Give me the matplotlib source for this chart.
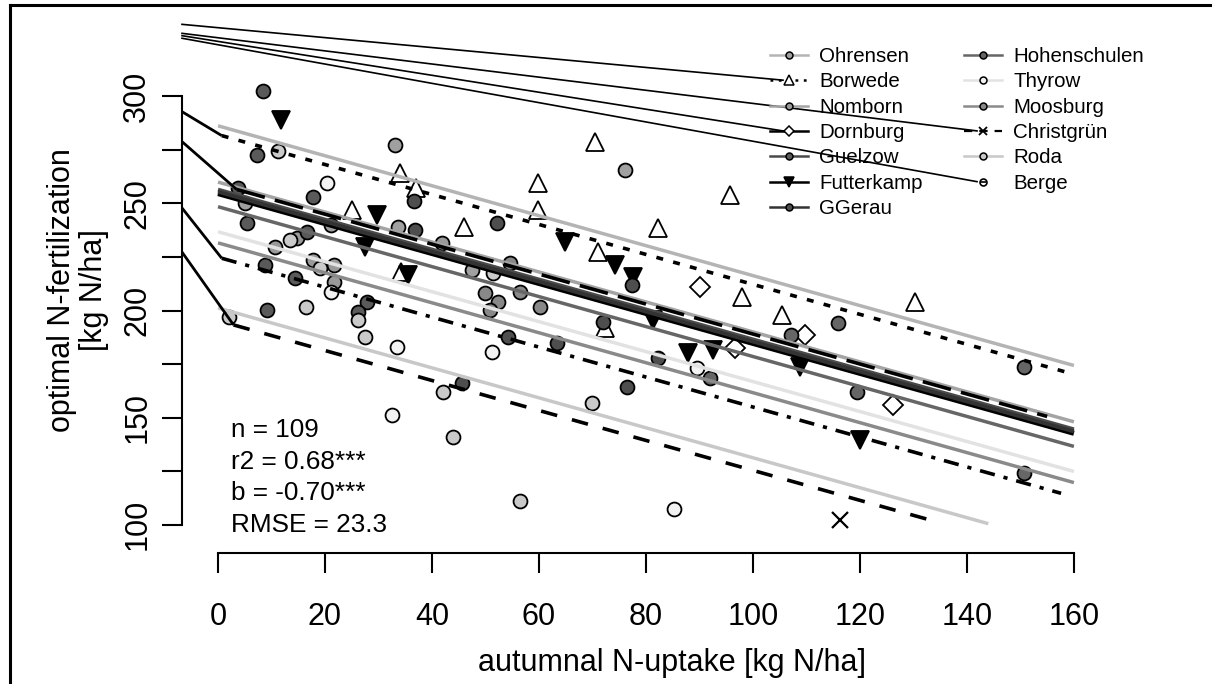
import numpy as np
import matplotlib.pyplot as plt
from matplotlib.lines import Line2D

plt.rcParams['font.family'] = ['Liberation Sans', 'DejaVu Sans']
plt.rcParams['lines.scale_dashes'] = False

# site order as in the legend
sites = ["Ohrensen", "Borwede", "Nomborn", "Dornburg", "Guelzow", "Futterkamp", "GGerau",
         "Hohenschulen", "Thyrow", "Moosburg", "Christgrün", "Roda", "Berge"]

# observations: autumnal N-uptake (x) vs optimal N-fertilization (y)
ohrensen_x = [33.1, 76.1, 33.7, 5.0, 21.2, 47.4]
ohrensen_y = [277.3, 265.7, 239.2, 250.1, 240.0, 218.9]
borwede_x = [34.0, 37.1, 25.0, 45.9, 34.3, 70.5, 59.9, 59.9, 95.7, 82.3, 71.1, 97.9, 105.4, 72.4, 130.3]
borwede_y = [264.1, 257.1, 247.0, 239.2, 218.1, 278.9, 259.4, 247.0, 254.0, 238.4, 227.5, 206.4, 197.9, 191.7, 204.1]
nomborn_x = [14.7, 10.7, 41.8, 17.8, 21.6, 21.6]
nomborn_y = [233.7, 229.8, 231.4, 223.6, 221.3, 213.5]
dornburg_x = [90.1, 96.6, 109.7, 126.2]
dornburg_y = [211.1, 182.3, 188.6, 155.8]
guelzow_x = [8.4, 7.2, 17.7, 3.8, 5.4, 8.8, 16.6, 14.4, 27.8, 26.2, 9.1]
guelzow_y = [302.7, 272.7, 253.2, 257.1, 240.7, 221.3, 236.8, 215.0, 204.1, 199.4, 200.2]
futterkamp_x = [11.7, 29.7, 27.5, 35.6, 64.9, 74.2, 77.6, 81.4, 87.9, 92.6, 108.8, 120.0]
futterkamp_y = [289.0, 244.6, 229.8, 216.6, 232.2, 221.3, 215.8, 195.6, 180.0, 181.5, 173.7, 139.5]
ggerau_x = [36.7, 36.8, 45.7, 52.1, 77.3, 72.0, 54.3, 63.3, 82.3, 76.4]
ggerau_y = [251.2, 237.6, 166.3, 241.0, 211.9, 194.8, 187.8, 184.7, 177.7, 164.4]
hohenschulen_x = [92.0, 107.2, 115.9, 119.4, 150.7, 150.7]
hohenschulen_y = [168.3, 188.6, 194.0, 162.1, 173.5, 123.9]
thyrow_x = [20.3, 21.2, 33.4, 32.6, 51.2, 89.5, 85.3]
thyrow_y = [259.7, 208.8, 183.1, 151.2, 180.8, 173.0, 107.1]
moosburg_x = [54.6, 49.9, 52.4, 56.4, 60.2, 50.8]
moosburg_y = [222.0, 208.0, 204.1, 208.8, 201.8, 200.2]
christgruen_x = [116.3]
christgruen_y = [102.1]
roda_x = [11.3, 13.5, 19.1, 26.2, 16.4, 27.5, 42.1, 44.0, 56.4, 70.0, 2.1, 51.5]
roda_y = [274.7, 232.9, 219.7, 195.6, 201.8, 187.8, 161.8, 141.0, 111.1, 156.9, 197.1, 217.4]
berge_x = []
berge_y = []

# site-specific fits with common slope
slope = -0.70
fit_intercept = [286.3, 282.2, 260.0, 259.0, 256.5, 254.6, 255.5, 248.5, 236.8, 231.6, 195.3, 201.2, 224.9]
fit_xmin = [0, 0.7, 0, 3.5, 0, 0, 0, 0, 0, 0, 2.9, 0, 0.7]
fit_xmax = [160, 160, 160, 155, 160, 160, 160, 160, 160, 160, 135, 144, 157.6]

# where the stray connector segments meet the y axis
left_leader_sites = ["Borwede", "Dornburg", "Berge", "Christgrün"]
left_leader_y = [292.9, 278.9, 247.9, 227.3]
top_leader_sites = ["Borwede", "Christgrün", "Dornburg", "Berge"]
top_leader_y = [333.7, 329.5, 328.4, 327.2]

stats = ["n = 109", "r2 = 0.68***", "b = -0.70***", "RMSE = 23.3"]

obs = {
    "Ohrensen": (ohrensen_x, ohrensen_y), "Borwede": (borwede_x, borwede_y),
    "Nomborn": (nomborn_x, nomborn_y), "Dornburg": (dornburg_x, dornburg_y),
    "Guelzow": (guelzow_x, guelzow_y), "Futterkamp": (futterkamp_x, futterkamp_y),
    "GGerau": (ggerau_x, ggerau_y), "Hohenschulen": (hohenschulen_x, hohenschulen_y),
    "Thyrow": (thyrow_x, thyrow_y), "Moosburg": (moosburg_x, moosburg_y),
    "Christgrün": (christgruen_x, christgruen_y), "Roda": (roda_x, roda_y),
    "Berge": (berge_x, berge_y),
}

# styles: marker, marker fill, point size, line colour, line style, line width
style = {
    "Ohrensen":     dict(m='o', fc='#a0a0a0', ms=10, lc='#b4b4b4', ls='-', lw=2.5),
    "Borwede":      dict(m='^', fc='white', ms=13, lc='black', ls=(0, (5, 7.5)), lw=2.6),
    "Nomborn":      dict(m='o', fc='#9a9a9a', ms=10, lc='#a4a4a4', ls='-', lw=2.5),
    "Dornburg":     dict(m='D', fc='white', ms=10.5, lc='black', ls=(0, (21, 7.5)), lw=2.6),
    "Guelzow":      dict(m='o', fc='#5a5a5a', ms=10, lc='#4a4a4a', ls='-', lw=2.8),
    "Futterkamp":   dict(m='v', fc='black', ms=13, lc='black', ls='-', lw=3.6),
    "GGerau":       dict(m='o', fc='#4e4e4e', ms=10, lc='#333333', ls='-', lw=2.8),
    "Hohenschulen": dict(m='o', fc='#666666', ms=10, lc='#666666', ls='-', lw=2.5),
    "Thyrow":       dict(m='o', fc='#f2f2f2', ms=10, lc='#e2e2e2', ls='-', lw=2.5),
    "Moosburg":     dict(m='o', fc='#888888', ms=10, lc='#8a8a8a', ls='-', lw=2.5),
    "Christgrün":   dict(m='x', fc='black', ms=12, lc='black', ls=(0, (12, 11)), lw=2.6),
    "Roda":         dict(m='o', fc='#cacaca', ms=10, lc='#c8c8c8', ls='-', lw=2.5),
    "Berge":        dict(m='o', fc='white', ms=6, lc='black', ls=(0, (11, 6.5, 3, 6.5)), lw=2.6),
}

fig = plt.figure(figsize=(12.15, 6.84), dpi=100)
ax = fig.add_axes([182 / 1215, 131 / 684, 1008 / 1215, 543 / 684])
ax.set_xlim(-6.73, 181.7)
ax.set_ylim(86.7, 340.4)

# points
for s in sites:
    x, y = obs[s]
    st = style[s]
    if len(x) == 0:
        continue
    if st['m'] == 'x':
        ax.plot(x, y, ls='none', marker='x', ms=st['ms'], mew=1.6, color='black', zorder=3)
    else:
        ax.plot(x, y, ls='none', marker=st['m'], ms=st['ms'], mfc=st['fc'], mec='black',
                mew=1.3, zorder=3)

# fitted lines
line_start = {}
for s, b0, x0, x1 in zip(sites, fit_intercept, fit_xmin, fit_xmax):
    st = style[s]
    xx = np.array([x0, x1])
    ax.plot(xx, b0 + slope * xx, color=st['lc'], ls=st['ls'], lw=st['lw'], zorder=4,
            solid_capstyle='butt', dash_capstyle='butt')
    line_start[s] = (x0, b0 + slope * x0)

# connectors from the y axis to the start of the patterned lines
for s, y0 in zip(left_leader_sites, left_leader_y):
    xs, ys = line_start[s]
    ax.plot([-6.73, xs], [y0, ys], color='black', lw=2.0, zorder=5, clip_on=False,
            solid_capstyle='butt')

# axes
for sp in ['top', 'right']:
    ax.spines[sp].set_visible(False)
ax.spines['left'].set_bounds(100, 300)
ax.spines['bottom'].set_bounds(0, 160)
ax.spines['left'].set_linewidth(1.5)
ax.spines['bottom'].set_linewidth(1.5)

xt = np.arange(0, 161, 20)
ax.set_xticks(xt)
ax.set_xticklabels([str(v) for v in xt])
yt = np.arange(100, 301, 25)
ax.set_yticks(yt)
ax.set_yticklabels([str(v) if v % 50 == 0 else '' for v in yt])
ax.tick_params(axis='both', length=14.4, width=1.5, labelsize=22, direction='out')
ax.tick_params(axis='x', pad=21)
ax.tick_params(axis='y', pad=7, labelrotation=90)
for lbl in ax.get_yticklabels():
    lbl.set_va('center')

for i, t in enumerate(stats):
    ax.text(2.4, 144.0 - 14.7 * i, t, fontsize=18.8, va='center', ha='left', zorder=6)

fig.text(672 / 1215, 1 - 663 / 684, "autumnal N-uptake [kg N/ha]", fontsize=22,
         ha='center', va='center')
fig.text(78 / 1215, 1 - 290 / 684, "optimal N-fertilization\n[kg N/ha]", fontsize=22,
         ha='center', va='center', rotation=90, multialignment='center', linespacing=1.05)


# legend in two columns
def legend_handle(s):
    st = style[s]
    lls = st['ls']
    if s == "Borwede":
        lls = (0, (2, 4))
    if s == "Christgrün":
        lls = (0, (6, 5))
    if s == "Dornburg":
        lls = '-'
    if s == "Berge":
        return (Line2D([], [], ls='none', marker='o', ms=5, mfc='white', mec='black', mew=1.2),
                Line2D([], [], ls='none', marker='_', ms=5, color='black', mew=1.2))
    if st['m'] == 'x':
        return Line2D([], [], color=st['lc'], ls=lls, lw=1.6, marker='x', ms=6, mew=1.3)
    mms = 6.5 if st['m'] in '^v' else 5
    return Line2D([], [], color=st['lc'], ls=lls, lw=1.8, marker=st['m'], ms=mms,
                  mfc=st['fc'], mec='black', mew=1.1)


legs = []
for part, xpix in [(sites[:7], 770), (sites[7:], 964)]:
    leg = fig.legend([legend_handle(s) for s in part], part, loc='upper left',
                     bbox_to_anchor=(xpix / 1215, 1 - 47 / 684), frameon=False,
                     fontsize=14.8, borderpad=0, borderaxespad=0, handlelength=1.85,
                     handletextpad=0.54, labelspacing=0.31)
    legs.append(leg)

# connectors from the top-left corner to some legend entries
fig.canvas.draw()
inv = ax.transData.inverted()
for s, y0 in zip(top_leader_sites, top_leader_y):
    leg = legs[0] if s in sites[:7] else legs[1]
    idx = (sites[:7] if s in sites[:7] else sites[7:]).index(s)
    h = leg.legend_handles[idx]
    bb = h.get_window_extent(fig.canvas.get_renderer())
    cx = (bb.x0 + bb.x1) / 2 - 6
    cy = (bb.y0 + bb.y1) / 2
    ex, ey = inv.transform((cx, cy))
    ax.plot([-6.73, ex], [y0, ey], color='black', lw=1.2, zorder=5, clip_on=False)

# frame lines at the left and top of the figure
fig.add_artist(Line2D([10 / 1215, 10 / 1215], [0, 1 - 5 / 684], color='black', lw=2.2,
                      transform=fig.transFigure))
fig.add_artist(Line2D([10 / 1215, 1210 / 1215], [1 - 5 / 684, 1 - 5 / 684], color='black',
                      lw=2.2, transform=fig.transFigure))

fig.savefig('out.png', dpi=100)
